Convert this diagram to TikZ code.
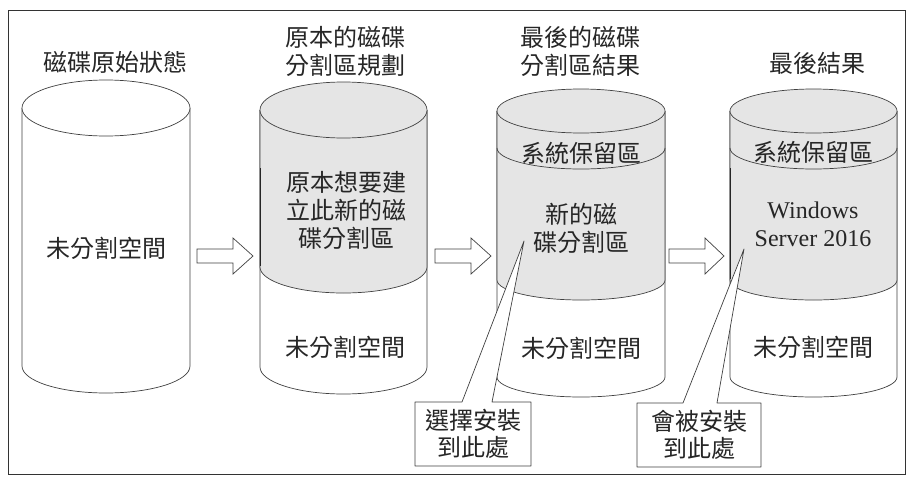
\documentclass[tikz,border=0pt]{standalone}
\usepackage{fontspec}
\newfontfamily\cjk{Noto Sans CJK TC}
\newfontfamily\serifen{Liberation Serif}
\tikzset{
  outl/.style={draw=black!75, line width=0.7pt, line join=round},
  frameline/.style={draw=black!80, line width=1pt},
  grayfill/.style={fill=black!10},
  lbl/.style={font=\cjk\fontsize{24pt}{28pt}\selectfont, text=black!85, align=center, inner sep=0pt},
  enlbl/.style={font=\serifen\fontsize{24pt}{28pt}\selectfont, text=black!85, align=center, inner sep=0pt},
  blockarrow/.style={outl, fill=white, line join=miter},
}
\begin{document}
\begin{tikzpicture}[x=1pt,y=-1pt]
\useasboundingbox (0,0) rectangle (910,479);
\draw[frameline] (8,10) rectangle (905,474);

% ---------- cylinder 1 ----------
\draw[outl, fill=white] (22,108) -- (22,366) arc[start angle=180, end angle=0, x radius=84, y radius=27] -- (190,108);
\draw[outl, fill=white] (106,108) ellipse [x radius=84, y radius=28];
\node[lbl] (t1) at (115,62) {磁碟原始狀態};
\node[lbl] (u1) at (106,248) {未分割空間};

% ---------- arrow 1 ----------
\draw[blockarrow] (197,249) -- (233,249) -- (233,238) -- (253,256) -- (233,274) -- (233,263) -- (197,263) -- cycle;

% ---------- cylinder 2 ----------
\draw[outl, fill=white] (260,110) -- (260,367) arc[start angle=180, end angle=0, x radius=83.5, y radius=27] -- (427,110);
\draw[outl, grayfill] (260,110) -- (260,267) arc[start angle=180, end angle=0, x radius=83.5, y radius=26] -- (427,110);
\draw[outl, grayfill] (343.5,110) ellipse [x radius=83.5, y radius=28];
\draw[draw=black!85, line width=1pt] (260,168) -- (260,266);
\node[lbl] (t2) at (345,51) {原本的磁碟\\分割區規劃};
\node[lbl] (p2) at (346,210) {原本想要建\\立此新的磁\\碟分割區};
\node[lbl] (u2) at (345,347) {未分割空間};

% ---------- arrow 2 ----------
\draw[blockarrow] (435,249) -- (471,249) -- (471,238) -- (491,256) -- (471,274) -- (471,263) -- (435,263) -- cycle;

% ---------- cylinder 3 ----------
\draw[outl, fill=white] (497,111) -- (497,377) arc[start angle=180, end angle=0, x radius=84, y radius=20] -- (665,111);
\draw[outl, grayfill] (497,111) -- (497,280) arc[start angle=180, end angle=0, x radius=84, y radius=20] -- (665,111);
\draw[outl, grayfill] (581,111) ellipse [x radius=84, y radius=22];
\draw[outl] (497,148) arc[start angle=180, end angle=0, x radius=84, y radius=21];
\node[lbl] (t3) at (580,51) {最後的磁碟\\分割區結果};
\node[lbl] (s3) at (581,153) {系統保留區};
\node[lbl] (p3) at (581,228) {新的磁\\碟分割區};
\node[lbl] (u3) at (581,348) {未分割空間};

% ---------- arrow 3 ----------
\draw[blockarrow] (669,249) -- (705,249) -- (705,238) -- (724,256) -- (705,274) -- (705,263) -- (669,263) -- cycle;

% ---------- cylinder 4 ----------
\draw[outl, fill=white] (730,111) -- (730,377) arc[start angle=180, end angle=0, x radius=83.5, y radius=20] -- (897,111);
\draw[outl, grayfill] (730,111) -- (730,280) arc[start angle=180, end angle=0, x radius=83.5, y radius=20] -- (897,111);
\draw[outl, grayfill] (813.5,111) ellipse [x radius=83.5, y radius=22];
\draw[outl] (730,148) arc[start angle=180, end angle=0, x radius=83.5, y radius=21];
\draw[draw=black!85, line width=1pt] (730,168) -- (730,279);
\node[lbl] (t4) at (817,63) {最後結果};
\node[lbl] (s4) at (813,152) {系統保留區};
\node[enlbl] (p4) at (813,224) {Windows\\Server 2016};
\node[lbl] (u4) at (813,347) {未分割空間};

% ---------- callouts ----------
\draw[outl, fill=white] (415,402) -- (462,402) -- (524,241) -- (492,402) -- (531,402) -- (531,466) -- (415,466) -- cycle;
\node[lbl, font=\cjk\fontsize{24pt}{27pt}\selectfont] (c1) at (473,434) {選擇安裝\\到此處};
\draw[outl, fill=white] (637,403) -- (683,403) -- (744,249) -- (717,403) -- (761,403) -- (761,467) -- (637,467) -- cycle;
\node[lbl, font=\cjk\fontsize{24pt}{27pt}\selectfont] (c2) at (699,435) {會被安裝\\到此處};
\end{tikzpicture}
\end{document}
